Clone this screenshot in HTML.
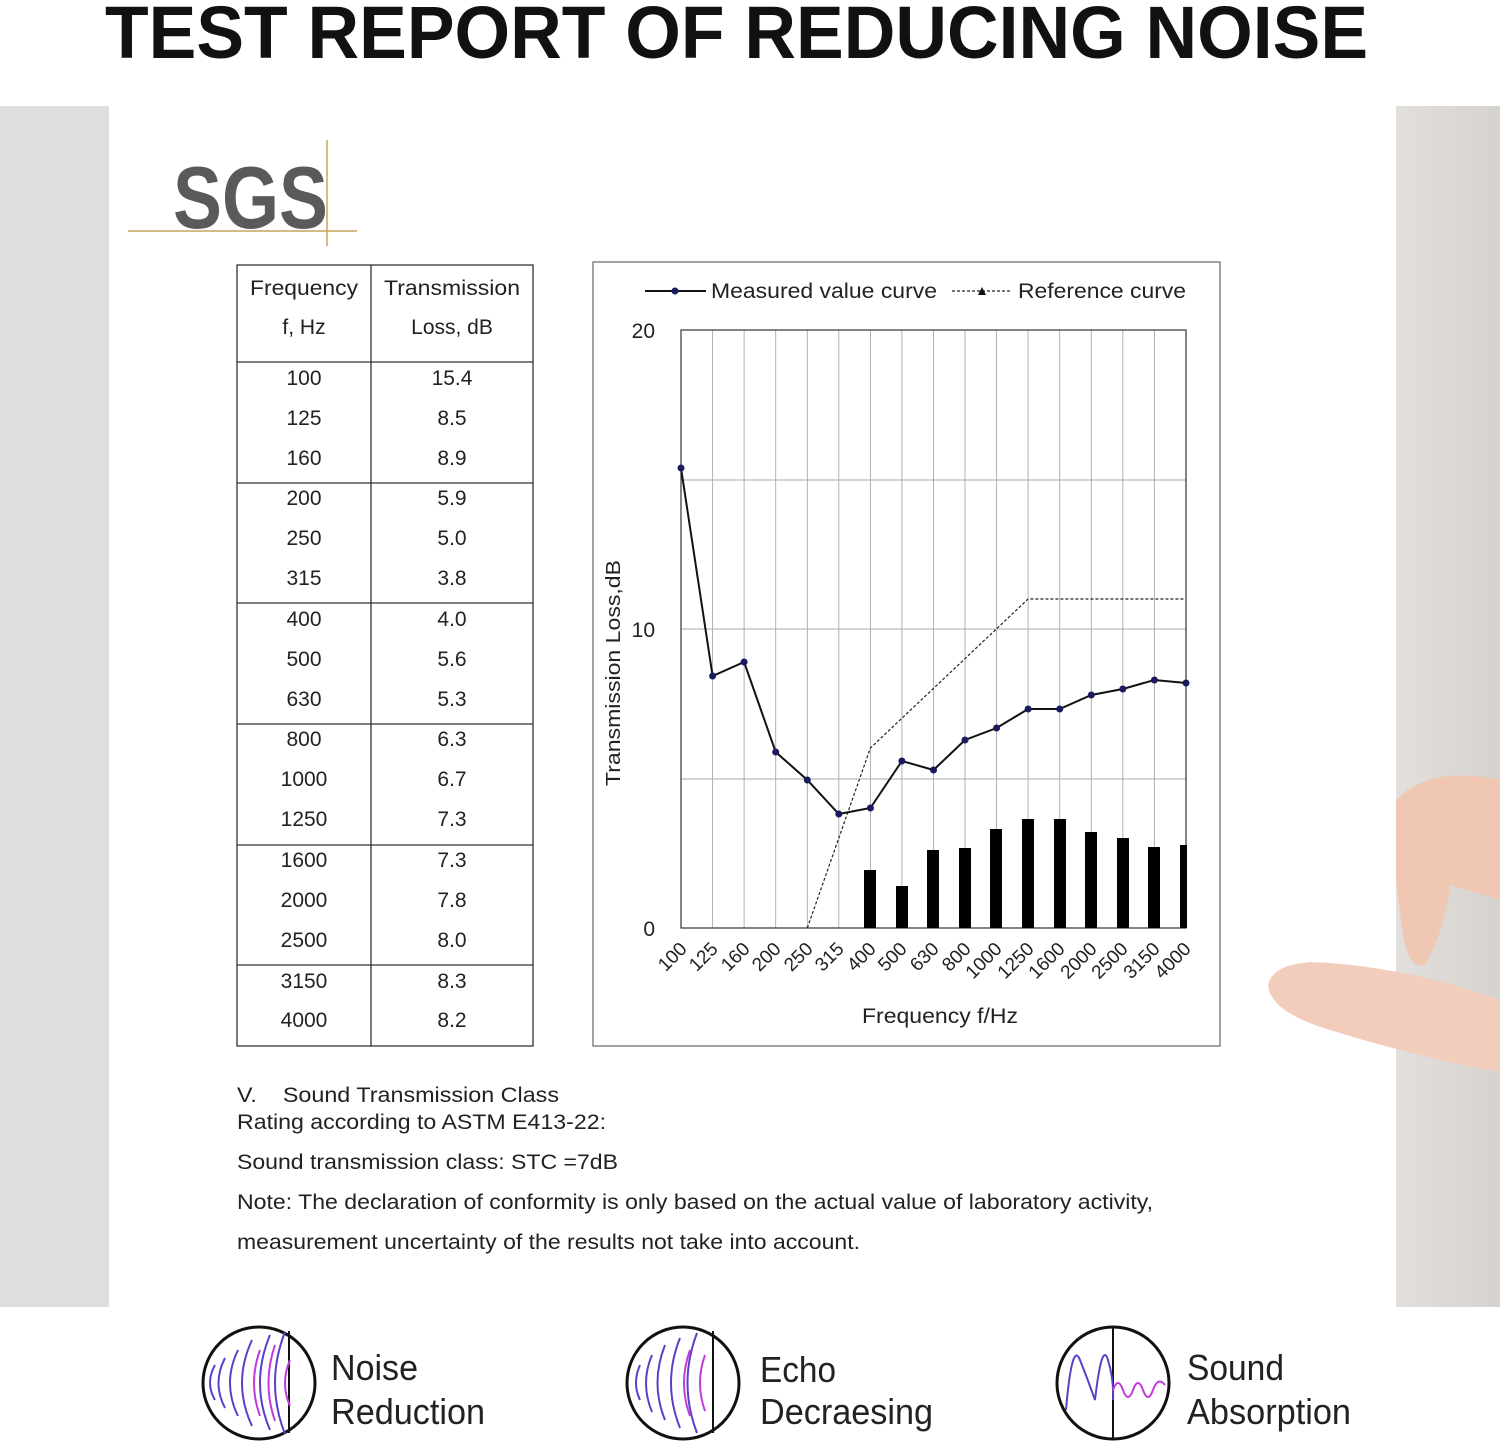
<!DOCTYPE html>
<html><head><meta charset="utf-8"><style>
html,body{margin:0;padding:0;background:#fff}
svg{display:block}
text{font-family:"Liberation Sans",sans-serif}
</style></head><body>
<svg width="1500" height="1444" viewBox="0 0 1500 1444" xmlns="http://www.w3.org/2000/svg">
<rect width="1500" height="1444" fill="#fff"/>
<text x="105" y="58" font-size="74" font-weight="bold" fill="#111" textLength="1263" lengthAdjust="spacingAndGlyphs">TEST REPORT OF REDUCING NOISE</text>
<rect x="0" y="106" width="109" height="1201" fill="#dedede"/>
<defs><linearGradient id="rg" x1="0" x2="1"><stop offset="0" stop-color="#e2dfdc"/><stop offset="1" stop-color="#d6d2ce"/></linearGradient></defs>
<rect x="1396" y="106" width="104" height="1201" fill="url(#rg)"/>
<!-- hand -->
<path d="M1396 800 Q1430 765 1500 780 L1500 900 Q1470 890 1450 885 Q1445 930 1425 965 Q1410 970 1404 940 Q1398 900 1396 880 Z" fill="#f0c7b3"/>
<path d="M1268 985 Q1272 965 1310 962 Q1400 965 1500 1000 L1500 1072 Q1420 1058 1330 1030 Q1270 1012 1268 985 Z" fill="#f3cdbc"/>
<!-- SGS -->
<text x="173" y="228" font-size="88" font-weight="bold" fill="#5a5a5a" textLength="155" lengthAdjust="spacingAndGlyphs">SGS</text>
<line x1="128" y1="231" x2="357" y2="231" stroke="#c9a45a" stroke-width="1.5"/>
<line x1="327" y1="140" x2="327" y2="246" stroke="#c9a45a" stroke-width="1.5"/>
<!-- table -->
<g stroke="#333" stroke-width="1.3" fill="none">
<rect x="237" y="265" width="296" height="781"/>
<line x1="371" y1="265" x2="371" y2="1046"/>
<line x1="237" y1="362" x2="533" y2="362"/>
<line x1="237" y1="483" x2="533" y2="483"/>
<line x1="237" y1="603" x2="533" y2="603"/>
<line x1="237" y1="724" x2="533" y2="724"/>
<line x1="237" y1="845" x2="533" y2="845"/>
<line x1="237" y1="965" x2="533" y2="965"/>
</g>
<g font-size="21" fill="#222" text-anchor="middle">
<text x="304" y="295" textLength="108" lengthAdjust="spacingAndGlyphs">Frequency</text><text x="304" y="334">f, Hz</text>
<text x="452" y="295" textLength="136" lengthAdjust="spacingAndGlyphs">Transmission</text><text x="452" y="334">Loss, dB</text>
<text x="304" y="385">100</text><text x="452" y="385">15.4</text>
<text x="304" y="425">125</text><text x="452" y="425">8.5</text>
<text x="304" y="465">160</text><text x="452" y="465">8.9</text>
<text x="304" y="505">200</text><text x="452" y="505">5.9</text>
<text x="304" y="545">250</text><text x="452" y="545">5.0</text>
<text x="304" y="585">315</text><text x="452" y="585">3.8</text>
<text x="304" y="626">400</text><text x="452" y="626">4.0</text>
<text x="304" y="666">500</text><text x="452" y="666">5.6</text>
<text x="304" y="706">630</text><text x="452" y="706">5.3</text>
<text x="304" y="746">800</text><text x="452" y="746">6.3</text>
<text x="304" y="786">1000</text><text x="452" y="786">6.7</text>
<text x="304" y="826">1250</text><text x="452" y="826">7.3</text>
<text x="304" y="867">1600</text><text x="452" y="867">7.3</text>
<text x="304" y="907">2000</text><text x="452" y="907">7.8</text>
<text x="304" y="947">2500</text><text x="452" y="947">8.0</text>
<text x="304" y="988">3150</text><text x="452" y="988">8.3</text>
<text x="304" y="1027">4000</text><text x="452" y="1027">8.2</text>
</g>
<!-- chart -->
<rect x="593" y="262" width="627" height="784" fill="none" stroke="#666" stroke-width="1.2"/>
<g stroke="#aaa" stroke-width="0.9">
<line x1="712.6" y1="330" x2="712.6" y2="928"/><line x1="744.1" y1="330" x2="744.1" y2="928"/>
<line x1="775.7" y1="330" x2="775.7" y2="928"/><line x1="807.3" y1="330" x2="807.3" y2="928"/>
<line x1="838.8" y1="330" x2="838.8" y2="928"/><line x1="870.4" y1="330" x2="870.4" y2="928"/>
<line x1="901.9" y1="330" x2="901.9" y2="928"/><line x1="933.5" y1="330" x2="933.5" y2="928"/>
<line x1="965" y1="330" x2="965" y2="928"/><line x1="996.6" y1="330" x2="996.6" y2="928"/>
<line x1="1028.1" y1="330" x2="1028.1" y2="928"/><line x1="1059.7" y1="330" x2="1059.7" y2="928"/>
<line x1="1091.3" y1="330" x2="1091.3" y2="928"/><line x1="1122.8" y1="330" x2="1122.8" y2="928"/>
<line x1="1154.4" y1="330" x2="1154.4" y2="928"/>
<line x1="681" y1="480" x2="1186" y2="480"/><line x1="681" y1="629" x2="1186" y2="629"/><line x1="681" y1="779" x2="1186" y2="779"/>
</g>
<rect x="681" y="330" width="505" height="598" fill="none" stroke="#333" stroke-width="1.2"/>
<g fill="#000">
<rect x="864" y="870" width="12" height="58"/><rect x="896" y="886" width="12" height="42"/>
<rect x="927" y="850" width="12" height="78"/><rect x="959" y="848" width="12" height="80"/>
<rect x="990" y="829" width="12" height="99"/><rect x="1022" y="819" width="12" height="109"/>
<rect x="1054" y="819" width="12" height="109"/><rect x="1085" y="832" width="12" height="96"/>
<rect x="1117" y="838" width="12" height="90"/><rect x="1148" y="847" width="12" height="81"/>
<rect x="1180" y="845" width="7" height="83"/>
</g>
<polyline points="807.3,928 870.4,748 1028.1,599 1186,599" fill="none" stroke="#222" stroke-width="1.2" stroke-dasharray="3,2"/>
<polyline points="681,468 712.6,676 744.1,662 775.7,752 807.3,780 838.8,814 870.4,808 901.9,761 933.5,770 965,740 996.6,728 1028.1,709 1059.7,709 1091.3,695 1122.8,689 1154.4,680 1186,683" fill="none" stroke="#111" stroke-width="2"/>
<g fill="#1a1a5e">
<circle cx="681" cy="468" r="3.5"/><circle cx="712.6" cy="676" r="3.5"/><circle cx="744.1" cy="662" r="3.5"/><circle cx="775.7" cy="752" r="3.5"/><circle cx="807.3" cy="780" r="3.5"/><circle cx="838.8" cy="814" r="3.5"/><circle cx="870.4" cy="808" r="3.5"/><circle cx="901.9" cy="761" r="3.5"/><circle cx="933.5" cy="770" r="3.5"/><circle cx="965" cy="740" r="3.5"/><circle cx="996.6" cy="728" r="3.5"/><circle cx="1028.1" cy="709" r="3.5"/><circle cx="1059.7" cy="709" r="3.5"/><circle cx="1091.3" cy="695" r="3.5"/><circle cx="1122.8" cy="689" r="3.5"/><circle cx="1154.4" cy="680" r="3.5"/><circle cx="1186" cy="683" r="3.5"/>
</g>
<!-- legend -->
<line x1="645" y1="291" x2="706" y2="291" stroke="#111" stroke-width="2"/><circle cx="675" cy="291" r="3.5" fill="#1a1a5e"/>
<text x="711" y="298" font-size="21" fill="#222" textLength="226" lengthAdjust="spacingAndGlyphs">Measured value curve</text>
<line x1="952" y1="291" x2="1012" y2="291" stroke="#222" stroke-width="1.2" stroke-dasharray="3,2"/>
<path d="M982 287 L986 295 L978 295 Z" fill="#111"/>
<text x="1018" y="298" font-size="21" fill="#222" textLength="168" lengthAdjust="spacingAndGlyphs">Reference curve</text>
<g font-size="21" fill="#222" text-anchor="end">
<text x="655" y="338">20</text><text x="655" y="637">10</text><text x="655" y="936">0</text>
</g>
<text transform="translate(620,673) rotate(-90)" text-anchor="middle" font-size="20" fill="#222" textLength="226" lengthAdjust="spacingAndGlyphs">Transmission Loss,dB</text>
<g font-size="19" fill="#222" text-anchor="end">
<text transform="translate(688,950) rotate(-45)">100</text>
<text transform="translate(719,950) rotate(-45)">125</text>
<text transform="translate(751,950) rotate(-45)">160</text>
<text transform="translate(782,950) rotate(-45)">200</text>
<text transform="translate(814,950) rotate(-45)">250</text>
<text transform="translate(845,950) rotate(-45)">315</text>
<text transform="translate(877,950) rotate(-45)">400</text>
<text transform="translate(908,950) rotate(-45)">500</text>
<text transform="translate(940,950) rotate(-45)">630</text>
<text transform="translate(972,950) rotate(-45)">800</text>
<text transform="translate(1003,950) rotate(-45)">1000</text>
<text transform="translate(1035,950) rotate(-45)">1250</text>
<text transform="translate(1066,950) rotate(-45)">1600</text>
<text transform="translate(1098,950) rotate(-45)">2000</text>
<text transform="translate(1129,950) rotate(-45)">2500</text>
<text transform="translate(1161,950) rotate(-45)">3150</text>
<text transform="translate(1192,950) rotate(-45)">4000</text>
</g>
<text x="862" y="1023" font-size="21" fill="#222" textLength="156" lengthAdjust="spacingAndGlyphs">Frequency f/Hz</text>
<!-- notes -->
<g font-size="21" fill="#222">
<text x="237" y="1102" textLength="322" lengthAdjust="spacingAndGlyphs">V.&#160;&#160;&#160; Sound Transmission Class</text>
<text x="237" y="1129" textLength="369" lengthAdjust="spacingAndGlyphs">Rating according to ASTM E413-22:</text>
<text x="237" y="1169" textLength="381" lengthAdjust="spacingAndGlyphs">Sound transmission class: STC =7dB</text>
<text x="237" y="1209" textLength="916" lengthAdjust="spacingAndGlyphs">Note: The declaration of conformity is only based on the actual value of laboratory activity,</text>
<text x="237" y="1249" textLength="623" lengthAdjust="spacingAndGlyphs">measurement uncertainty of the results not take into account.</text>
</g>
<!-- icons -->
<g fill="none" stroke-width="2">
<ellipse cx="259" cy="1383" rx="56" ry="56" stroke="#111" stroke-width="3"/>
<line x1="289" y1="1331" x2="289" y2="1433" stroke="#111"/>
<path d="M215 1365 Q205 1383 215 1400 M225 1358 Q212 1383 225 1408 M238 1350 Q222 1383 238 1416 M252 1340 Q232 1383 252 1426 M270 1335 Q250 1383 270 1430 M285 1332 Q265 1383 285 1434" stroke="#5b3fc9"/>
<path d="M260 1350 Q248 1383 260 1416 M275 1345 Q262 1383 275 1421 M290 1360 Q280 1383 290 1406" stroke="#c23cd8"/>
<ellipse cx="683" cy="1383" rx="56" ry="56" stroke="#111" stroke-width="3"/>
<line x1="713" y1="1331" x2="713" y2="1433" stroke="#111"/>
<path d="M640 1365 Q632 1383 640 1400 M652 1355 Q640 1383 652 1412 M665 1345 Q650 1383 665 1420 M680 1338 Q662 1383 680 1428 M697 1333 Q678 1383 697 1433" stroke="#5b3fc9"/>
<path d="M690 1350 Q678 1383 690 1416 M705 1355 Q695 1383 705 1411" stroke="#c23cd8"/>
<ellipse cx="1113" cy="1383" rx="56" ry="56" stroke="#111" stroke-width="3"/>
<line x1="1113" y1="1327" x2="1113" y2="1439" stroke="#111"/>
<path d="M1066 1410 Q1072 1340 1080 1360 T1095 1400 Q1102 1340 1108 1360 T1113 1400" stroke="#5b3fc9"/>
<path d="M1113 1390 Q1118 1376 1123 1390 T1133 1390 T1143 1390 T1153 1390 T1165 1385" stroke="#c23cd8"/>
</g>
<g font-size="36" fill="#222">
<text x="331" y="1380" textLength="87" lengthAdjust="spacingAndGlyphs">Noise</text><text x="331" y="1424" textLength="154" lengthAdjust="spacingAndGlyphs">Reduction</text>
<text x="760" y="1382" textLength="76" lengthAdjust="spacingAndGlyphs">Echo</text><text x="760" y="1424" textLength="173" lengthAdjust="spacingAndGlyphs">Decraesing</text>
<text x="1187" y="1380" textLength="97" lengthAdjust="spacingAndGlyphs">Sound</text><text x="1187" y="1424" textLength="164" lengthAdjust="spacingAndGlyphs">Absorption</text>
</g>
</svg>
</body></html>
